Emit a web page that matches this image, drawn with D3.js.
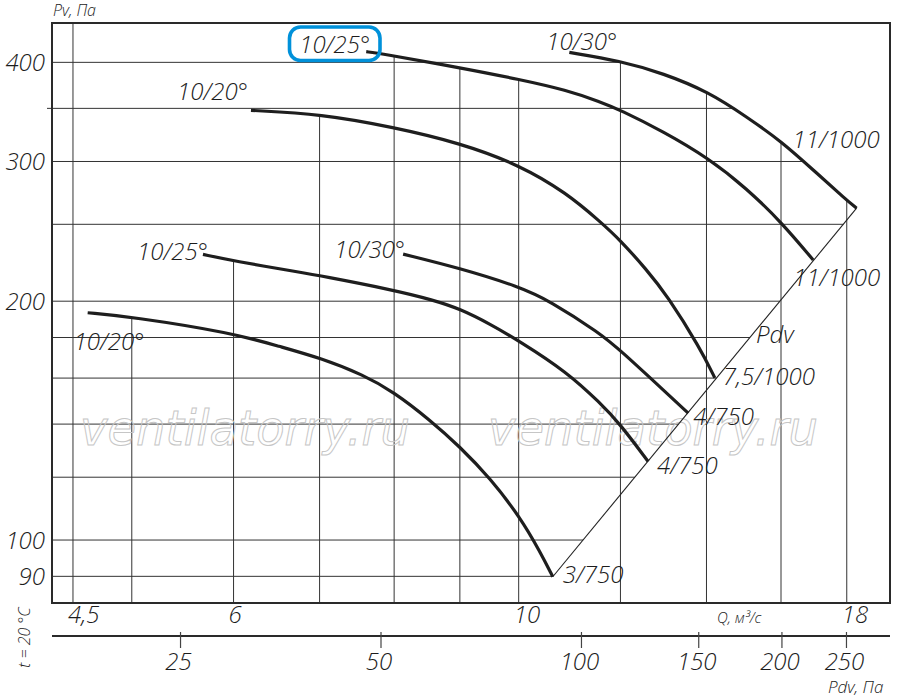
<!DOCTYPE html>
<html>
<head>
<meta charset="utf-8">
<script src="https://cdn.jsdelivr.net/npm/d3@7/dist/d3.min.js"></script>
<style>
    body { margin: 0; background: #fff; }
    text { font-family: "Open Sans", "DejaVu Sans", sans-serif; font-style: italic; font-weight: 300; fill: #1c1c1c; }
</style>
</head>
<body>
<svg id="chart" width="900" height="699"></svg>
<script>

// grid / ticks
var qGrid = [4.5, 5, 6, 7, 8, 9, 10, 12, 14, 16, 18];
var qTicks = [4.5, 6, 10, 18];
var pGrid = [90, 100, 120, 140, 160, 180, 200, 250, 300, 350, 400];
var pTicks = [90, 100, 200, 300, 400];
var pdvTicks = [25, 50, 100, 150, 200, 250];

// fan curves, [Q, Pv]
var curve1 = [[4.62, 193.4], [4.99, 191.2], [5.99, 182.4], [6.52, 175.3], [7.02, 169.5], [7.57, 161.5], [7.99, 153.8], [8.53, 141.7], [9.00, 131.1], [9.50, 119.7], [10.02, 107.0], [10.39, 96.7], [10.63, 89.9]];
var curve2 = [[5.68, 229.1], [6.00, 224.8], [6.76, 217.5], [7.02, 215.2], [7.99, 206.6], [8.58, 200.7], [9.01, 195.5], [9.50, 187.2], [10.01, 178.2], [10.90, 162.9], [11.57, 148.9], [11.99, 140.1], [12.61, 125.6]];
var curve3 = [[8.13, 229.3], [9.01, 220.0], [10.01, 208.6], [10.58, 200.1], [11.57, 182.2], [11.99, 173.6], [13.04, 153.1], [13.55, 144.5]];
var curve4 = [[6.19, 348.0], [7.02, 344.2], [7.99, 331.4], [9.01, 316.4], [10.01, 297.1], [10.90, 273.7], [11.57, 252.0], [11.99, 239.0], [12.58, 219.0], [13.04, 203.6], [13.84, 174.6], [14.21, 160.1]];
var curve5 = [[7.61, 412.6], [7.80, 410.5], [9.01, 393.7], [10.01, 380.7], [10.90, 369.0], [11.57, 356.7], [11.99, 348.5], [12.96, 327.2], [14.05, 302.9], [15.04, 277.6], [16.02, 251.3], [16.95, 225.4]];
var curve6 = [[10.95, 411.7], [11.99, 401.8], [12.96, 387.4], [14.05, 367.2], [15.04, 341.6], [16.02, 317.8], [16.95, 292.7], [17.99, 268.3], [18.32, 262.0]];

// line through curve ends (Pdv)
var pdvLine = [[10.63, 89.9], [18.32, 262.0]];

var bladeAngles = ["10/20°", "10/25°", "10/30°", "10/20°", "10/25°", "10/30°"];
var motors = ["3/750", "4/750", "4/750", "7,5/1000", "11/1000", "11/1000"];

var curves = [curve1, curve2, curve3, curve4, curve5, curve6];

var plotL = 52, plotR = 890, plotT = 23, plotB = 603;

var x = d3.scaleLog().domain([4.334, 19.45]).range([plotL, plotR]);
var y = d3.scaleLog().domain([83.3, 448.4]).range([plotB, plotT]);
var xPdv = d3.scaleLog().domain([16.03, 290.6]).range([plotL, plotR]);

var svg = d3.select("#chart");

var gGrid = svg.append("g");
var gWater = svg.append("g");
var gCurves = svg.append("g");
var gText = svg.append("g");

var line = d3.line()
    .x(function(d) { return x(d[0]); })
    .y(function(d) { return y(d[1]); })
    .curve(d3.curveBasis);

// watermark
["ventilatorry.ru", "ventilatorry.ru"].forEach(function(w, i) {
    gWater.append("text")
        .attr("x", i == 0 ? 80 : 488)
        .attr("y", 445)
        .attr("textLength", 330)
        .attr("lengthAdjust", "spacingAndGlyphs")
        .style("font-family", "'DejaVu Sans', sans-serif")
        .style("font-weight", 400)
        .style("font-size", "48px")
        .style("fill", "none")
        .style("stroke", "#c6c6c6")
        .style("stroke-width", 1)
        .text(w);
});

// pdv line
gCurves.append("path")
    .datum(pdvLine)
    .attr("d", d3.line().x(function(d) { return x(d[0]); }).y(function(d) { return y(d[1]); }))
    .attr("fill", "none")
    .attr("stroke", "#222")
    .attr("stroke-width", 1.1);

var paths = gCurves.selectAll("path.fan")
    .data(curves)
    .join("path")
    .attr("class", "fan")
    .attr("d", line)
    .attr("fill", "none")
    .attr("stroke", "#1e1e1e")
    .attr("stroke-width", 3.2);

// sample paths for grid clipping
function sample(node) {
    var L = node.getTotalLength(), pts = [];
    for (var s = 0; s < L; s += 1) {
        var p = node.getPointAtLength(s);
        pts.push([p.x, p.y]);
    }
    var e = node.getPointAtLength(L);
    pts.push([e.x, e.y]);
    return pts;
}

var polys = paths.nodes().map(sample);
polys.push(pdvLine.map(function(d) { return [x(d[0]), y(d[1])]; }));

function topAt(px) {
    var minY = Infinity;
    polys.forEach(function(pts) {
        for (var i = 0; i < pts.length - 1; i++) {
            var a = pts[i], b = pts[i + 1];
            if ((a[0] - px) * (b[0] - px) <= 0 && a[0] != b[0]) {
                var t = (px - a[0]) / (b[0] - a[0]);
                var yy = a[1] + t * (b[1] - a[1]);
                if (yy < minY) minY = yy;
            }
        }
    });
    return minY == Infinity ? plotT : minY;
}

function rightAt(py) {
    var maxX = -Infinity;
    polys.forEach(function(pts) {
        for (var i = 0; i < pts.length - 1; i++) {
            var a = pts[i], b = pts[i + 1];
            if ((a[1] - py) * (b[1] - py) <= 0 && a[1] != b[1]) {
                var t = (py - a[1]) / (b[1] - a[1]);
                var xx = a[0] + t * (b[0] - a[0]);
                if (xx > maxX) maxX = xx;
            }
        }
    });
    return maxX == -Infinity ? plotR : maxX;
}

gGrid.selectAll("line.v")
    .data(qGrid)
    .join("line")
    .attr("x1", function(d) { return x(d); })
    .attr("x2", function(d) { return x(d); })
    .attr("y1", function(d) { return topAt(x(d)); })
    .attr("y2", plotB)
    .attr("stroke", "#333")
    .attr("stroke-width", 1);

gGrid.selectAll("line.h")
    .data(pGrid)
    .join("line")
    .attr("x1", function(d) { return d == 350 ? plotL - 5 : plotL; })
    .attr("x2", function(d) { return rightAt(y(d)); })
    .attr("y1", function(d) { return y(d); })
    .attr("y2", function(d) { return y(d); })
    .attr("stroke", "#333")
    .attr("stroke-width", 1);

// frame
svg.append("rect")
    .attr("x", plotL).attr("y", plotT)
    .attr("width", plotR - plotL).attr("height", plotB - plotT)
    .attr("fill", "none")
    .attr("stroke", "#2a2a2a")
    .attr("stroke-width", 2);

// blade-angle labels near curve starts
var startLayout = [
    { a: "start", dx: -14, dy: 37 },
    { a: "end", dx: 5, dy: 6 },
    { a: "end", dx: 2, dy: 4 },
    { a: "end", dx: -3, dy: -10 },
    { a: "end", dx: 4, dy: 1 },
    { a: "start", dx: -23, dy: -2 }
];
var endLayout = [
    { dx: 10, dy: 6 },
    { dx: 9, dy: 13 },
    { dx: 5, dy: 12 },
    { dx: 8, dy: 7 },
    { dx: -20, dy: 26 },
    { dx: -64, dy: -60 }
];

curves.forEach(function(c, i) {
    var s = c[0], e = c[c.length - 1];
    gText.append("text")
        .attr("x", x(s[0]) + startLayout[i].dx)
        .attr("y", y(s[1]) + startLayout[i].dy)
        .attr("text-anchor", startLayout[i].a)
        .style("font-size", "24px")
        .text(bladeAngles[i]);
    gText.append("text")
        .attr("x", x(e[0]) + endLayout[i].dx)
        .attr("y", y(e[1]) + endLayout[i].dy)
        .style("font-size", "24px")
        .text(motors[i]);
});

gText.append("text")
    .attr("x", x(15.3))
    .attr("y", y(177))
    .style("font-size", "24px")
    .text("Pdv");

// highlight box round the top 10/25°
svg.append("rect")
    .attr("x", 289.5).attr("y", 27)
    .attr("width", 90.5).attr("height", 33.5)
    .attr("rx", 11)
    .attr("fill", "none")
    .attr("stroke", "#0091da")
    .attr("stroke-width", 3.6);

// y tick labels
gText.selectAll("text.py")
    .data(pTicks)
    .join("text")
    .attr("x", 45)
    .attr("y", function(d) { return y(d) + 8.5; })
    .attr("text-anchor", "end")
    .style("font-size", "24px")
    .text(function(d) { return d; });

// q tick labels
gText.selectAll("text.qx")
    .data(qTicks)
    .join("text")
    .attr("x", function(d) { return x(d) - 5; })
    .attr("y", 623)
    .style("font-size", "24px")
    .text(function(d) { return String(d).replace(".", ","); });

// Pdv axis
svg.append("line")
    .attr("x1", plotL).attr("x2", plotR)
    .attr("y1", 636).attr("y2", 636)
    .attr("stroke", "#2a2a2a")
    .attr("stroke-width", 2);

svg.selectAll("line.pdv")
    .data(pdvTicks)
    .join("line")
    .attr("x1", function(d) { return xPdv(d); })
    .attr("x2", function(d) { return xPdv(d); })
    .attr("y1", 632).attr("y2", 648)
    .attr("stroke", "#444")
    .attr("stroke-width", 1.2);

gText.selectAll("text.pdv")
    .data(pdvTicks)
    .join("text")
    .attr("x", function(d) { return xPdv(d) - 2; })
    .attr("y", 670)
    .attr("text-anchor", "middle")
    .style("font-size", "24px")
    .text(function(d) { return d; });

// axis titles
gText.append("text").attr("x", 53).attr("y", 16).style("font-size", "16px").text("Pv, Па");
gText.append("text").attr("x", 717).attr("y", 623).style("font-size", "15px").text("Q, м³/с");
gText.append("text").attr("x", 828).attr("y", 693).style("font-size", "17px").text("Pdv, Па");
gText.append("text")
    .attr("transform", "translate(30,637.5) rotate(-90)")
    .attr("text-anchor", "middle")
    .style("font-size", "16px")
    .text("t = 20 °C");

</script>
</body>
</html>
